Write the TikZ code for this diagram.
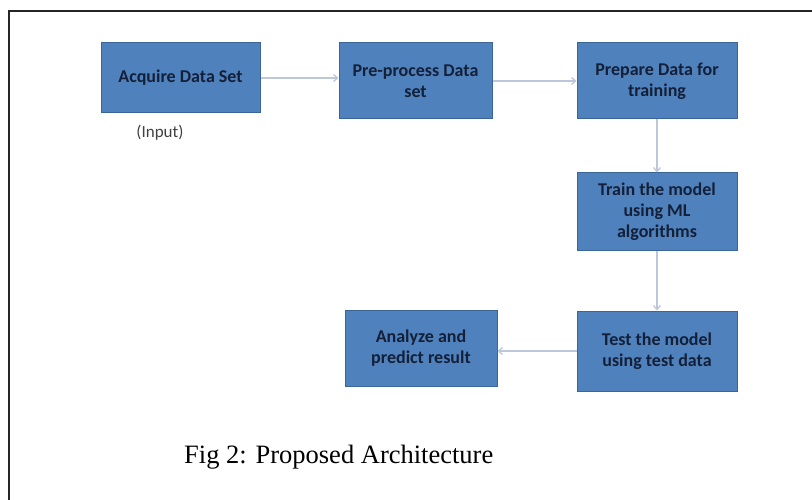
\documentclass[tikz,border=0pt]{standalone}
\usepackage{fontspec}
\setmainfont{Liberation Serif}
\newfontfamily\boxfont{Carlito}
\usetikzlibrary{arrows.meta}
\definecolor{boxfill}{HTML}{4F81BD}
\definecolor{boxline}{HTML}{3B6497}
\definecolor{boxtext}{HTML}{142038}
\definecolor{arrowcol}{HTML}{BCC8DA}
\definecolor{inputcol}{HTML}{404040}
\begin{document}
\begin{tikzpicture}[x=1pt,y=-1pt,
  stepbox/.style={draw=boxline, line width=1pt, fill=boxfill, inner sep=0pt,
    align=center, text=boxtext,
    font=\boxfont\bfseries\fontsize{18}{21}\selectfont},
  flow/.style={draw=arrowcol, line width=1.3pt, -{Straight Barb[length=4pt,width=7pt]}}]
\useasboundingbox (0,0) rectangle (812,500);
% frame (left and top edges)
\draw[line width=1.8pt, black!85] (9,500) -- (9,11) -- (812,11);
% boxes
\node[stepbox, minimum width=159pt, minimum height=70pt] (acq) at (180.5,78) {Acquire Data Set};
\node[stepbox, minimum width=153pt, minimum height=76pt] (pre) at (415.5,81) {Pre-process Data\\set};
\node[stepbox, minimum width=160pt, minimum height=76pt] (prep) at (657,81) {Prepare Data for\\training};
\node[stepbox, minimum width=160pt, minimum height=77pt] (train) at (657,211.5) {Train the model\\using ML\\algorithms};
\node[stepbox, minimum width=160pt, minimum height=80pt] (test) at (657,351) {Test the model\\using test data};
\node[stepbox, minimum width=152pt, minimum height=76pt] (anal) at (421,348) {Analyze and\\predict result};
% labels
\node[text=inputcol, font=\boxfont\fontsize{17}{20}\selectfont, inner sep=0pt] (inp) at (160,133) {(Input)};
\node[font=\fontsize{26.5}{30}\selectfont, inner sep=0pt, anchor=base west] (cap) at (184,463) {Fig 2: Proposed Architecture};
% connectors
\draw[flow] (acq.east) -- (acq.east -| pre.west);
\draw[flow] (pre.east) -- (prep.west);
\draw[flow] (prep.south) -- (train.north);
\draw[flow] (train.south) -- (test.north);
\draw[flow] (test.west) -- (test.west -| anal.east);
\end{tikzpicture}
\end{document}
